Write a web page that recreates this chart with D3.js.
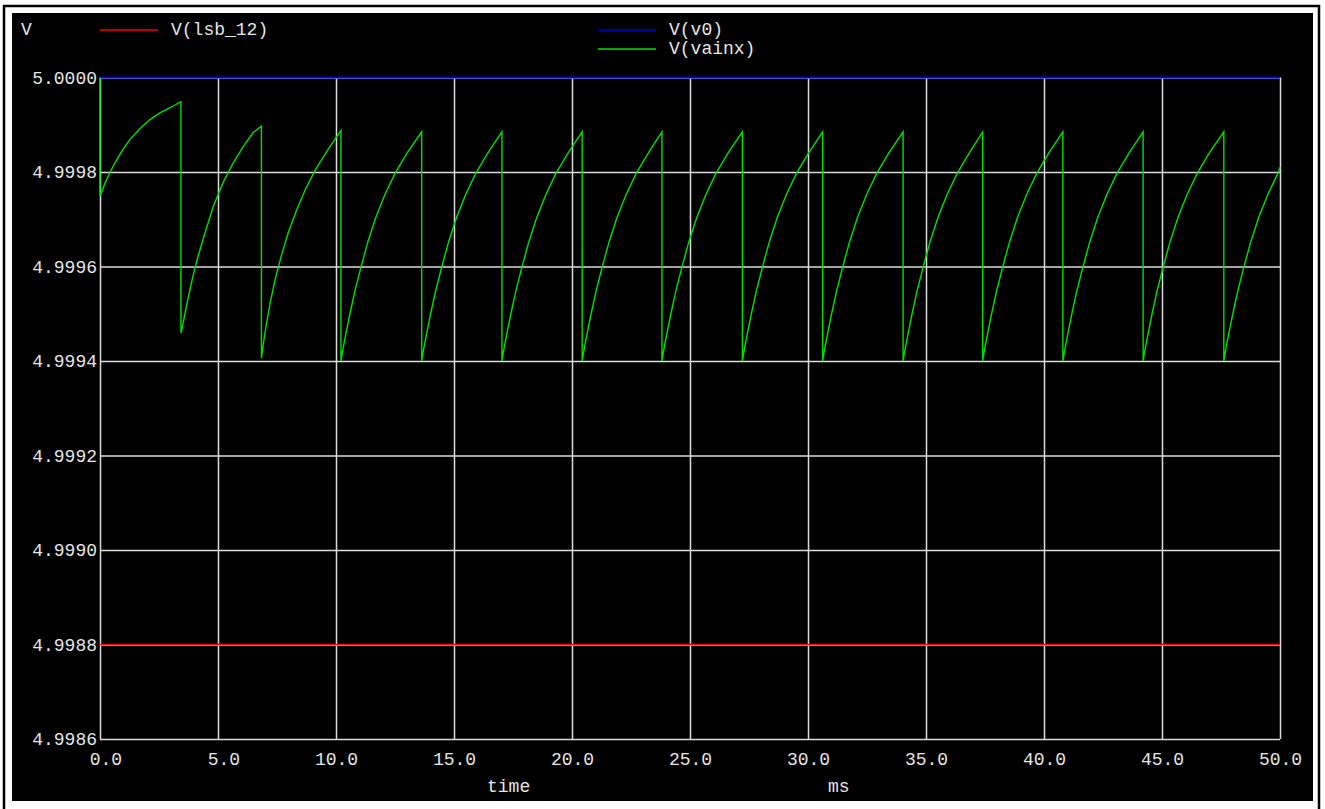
<!DOCTYPE html>
<html>
<head>
<meta charset="utf-8">
<script src="https://cdn.jsdelivr.net/npm/d3@7"></script>
<style>
  body { margin: 0; background: #fff; }
  svg text { font-family: "Liberation Mono", "DejaVu Sans Mono", monospace; font-size: 18px; fill: #e6e6e6; white-space: pre; }
</style>
</head>
<body>
<div id="chart"></div>
<script>
// time axis (ms) and voltage axis ticks
const xTicks = [0, 5, 10, 15, 20, 25, 30, 35, 40, 45, 50];
const yTicks = [4.9986, 4.9988, 4.9990, 4.9992, 4.9994, 4.9996, 4.9998, 5.0000];

const legendNames = ["V(lsb_12)", "V(v0)", "V(vainx)"];
const traceColors = ["#ff0000", "#0000e0", "#00e000"];

// flat traces
const lsb12 = [[0, 4.9988], [50, 4.9988]];
const v0 = [[0, 5.0000], [50, 5.0000]];

// V(vainx): [time ms, volts]
const vainx = [
  [0, 5.0000], [0, 4.999749], [0.21, 4.999776], [0.42, 4.999799], [0.64, 4.999820], [0.85, 4.999838], [1.06, 4.999854], [1.27, 4.999869], [1.70, 4.999892], [2.12, 4.999911], [2.54, 4.999925], [2.97, 4.999936], [3.43, 4.999949],
  [3.43, 4.999459], [3.52, 4.999480], [3.69, 4.999523], [3.90, 4.999571], [4.11, 4.999614], [4.45, 4.999671], [4.79, 4.999726], [5.21, 4.999777], [5.64, 4.999819], [6.06, 4.999853], [6.48, 4.999883], [6.84, 4.999897],
  [6.84, 4.999406], [6.92, 4.999436], [7.05, 4.999478], [7.22, 4.999525], [7.43, 4.999575], [7.69, 4.999624], [7.98, 4.999672], [8.32, 4.999718], [8.70, 4.999763], [9.13, 4.999805], [9.64, 4.999846], [10.21, 4.999888],
  [10.21, 4.999400], [10.29, 4.999424], [10.42, 4.999458], [10.59, 4.999500], [10.80, 4.999548], [11.06, 4.999599], [11.35, 4.999652], [11.69, 4.999704], [12.07, 4.999752], [12.50, 4.999797], [13.01, 4.999840], [13.63, 4.999885],
  [13.63, 4.999400], [13.71, 4.999424], [13.84, 4.999458], [14.01, 4.999500], [14.22, 4.999548], [14.48, 4.999599], [14.77, 4.999652], [15.11, 4.999704], [15.49, 4.999752], [15.92, 4.999797], [16.43, 4.999840], [17.03, 4.999885],
  [17.03, 4.999400], [17.11, 4.999424], [17.24, 4.999458], [17.41, 4.999500], [17.62, 4.999548], [17.88, 4.999599], [18.17, 4.999652], [18.51, 4.999704], [18.89, 4.999752], [19.32, 4.999797], [19.83, 4.999840], [20.43, 4.999885],
  [20.43, 4.999400], [20.51, 4.999424], [20.64, 4.999458], [20.81, 4.999500], [21.02, 4.999548], [21.28, 4.999599], [21.57, 4.999652], [21.91, 4.999704], [22.29, 4.999752], [22.72, 4.999797], [23.23, 4.999840], [23.81, 4.999885],
  [23.81, 4.999400], [23.89, 4.999424], [24.02, 4.999458], [24.19, 4.999500], [24.40, 4.999548], [24.66, 4.999599], [24.95, 4.999652], [25.29, 4.999704], [25.67, 4.999752], [26.10, 4.999797], [26.61, 4.999840], [27.22, 4.999885],
  [27.22, 4.999400], [27.30, 4.999424], [27.43, 4.999458], [27.60, 4.999500], [27.81, 4.999548], [28.07, 4.999599], [28.36, 4.999652], [28.70, 4.999704], [29.08, 4.999752], [29.51, 4.999797], [30.02, 4.999840], [30.62, 4.999885],
  [30.62, 4.999400], [30.70, 4.999424], [30.83, 4.999458], [31.00, 4.999500], [31.21, 4.999548], [31.47, 4.999599], [31.76, 4.999652], [32.10, 4.999704], [32.48, 4.999752], [32.91, 4.999797], [33.42, 4.999840], [34.03, 4.999885],
  [34.03, 4.999400], [34.11, 4.999424], [34.24, 4.999458], [34.41, 4.999500], [34.62, 4.999548], [34.88, 4.999599], [35.17, 4.999652], [35.51, 4.999704], [35.89, 4.999752], [36.32, 4.999797], [36.83, 4.999840], [37.40, 4.999885],
  [37.40, 4.999400], [37.48, 4.999424], [37.61, 4.999458], [37.78, 4.999500], [37.99, 4.999548], [38.25, 4.999599], [38.54, 4.999652], [38.88, 4.999704], [39.26, 4.999752], [39.69, 4.999797], [40.20, 4.999840], [40.80, 4.999885],
  [40.80, 4.999400], [40.88, 4.999424], [41.01, 4.999458], [41.18, 4.999500], [41.39, 4.999548], [41.65, 4.999599], [41.94, 4.999652], [42.28, 4.999704], [42.66, 4.999752], [43.09, 4.999797], [43.60, 4.999840], [44.20, 4.999885],
  [44.20, 4.999400], [44.28, 4.999424], [44.41, 4.999458], [44.58, 4.999500], [44.79, 4.999548], [45.05, 4.999599], [45.34, 4.999652], [45.68, 4.999704], [46.06, 4.999752], [46.49, 4.999797], [47.00, 4.999840], [47.62, 4.999885],
  [47.62, 4.999400], [47.70, 4.999424], [47.83, 4.999458], [48.00, 4.999500], [48.21, 4.999548], [48.47, 4.999599], [48.76, 4.999652], [49.10, 4.999704], [49.48, 4.999752], [49.91, 4.999797], [50.00, 4.999810]
];

const W = 1325, H = 809;
const svg = d3.select("#chart").append("svg")
  .attr("width", W)
  .attr("height", H);

// outer frame + black panel
svg.append("rect")
  .attr("x", 4).attr("y", 6).attr("width", 1315).attr("height", 810)
  .attr("fill", "#fff").attr("stroke", "#000").attr("stroke-width", 2.5);
svg.append("rect")
  .attr("x", 12).attr("y", 13).attr("width", 1301).attr("height", 788)
  .attr("fill", "#000");

const x = d3.scaleLinear().domain([0, 50]).range([100, 1280]);
const y = d3.scaleLinear().domain([4.9986, 5.0000]).range([739, 77.5]);

// grid via axes
svg.append("g")
  .attr("transform", `translate(0,${y(4.9986)})`)
  .call(d3.axisBottom(x)
    .tickValues(xTicks)
    .tickSize(-(y(4.9986) - y(5.0)))
    .tickPadding(13)
    .tickFormat(d => d3.format(".1f")(d).padStart(4, " ")));

svg.append("g")
  .attr("transform", `translate(${x(0)},0)`)
  .call(d3.axisLeft(y)
    .tickValues(yTicks)
    .tickSize(-(x(50) - x(0)))
    .tickPadding(3)
    .tickFormat(d3.format(".4f")));

svg.selectAll(".domain").remove();
svg.selectAll(".tick line")
  .attr("stroke", "#dcdcdc")
  .attr("stroke-width", 1.5);
svg.selectAll(".tick text")
  .attr("fill", "#e6e6e6")
  .attr("font-family", null)
  .attr("font-size", null);

// traces
const line = d3.line()
  .x(d => x(d[0]))
  .y(d => y(d[1]));

const traces = [lsb12, v0, vainx];
const traceWidths = [1.4, 2, 1.4];
traces.forEach((data, i) => {
  svg.append("path")
    .datum(data)
    .attr("fill", "none")
    .attr("stroke", traceColors[i])
    .attr("stroke-width", traceWidths[i])
    .attr("d", line);
});

// labels
svg.append("text").attr("x", 21).attr("y", 35).text("V");
svg.append("text").attr("x", 487).attr("y", 792).text("time");
svg.append("text").attr("x", 828).attr("y", 792).text("ms");

// legend
const legendPos = [[100, 30], [598, 30], [598, 49]];
legendNames.forEach((name, i) => {
  const [lx, ly] = legendPos[i];
  svg.append("line")
    .attr("x1", lx).attr("x2", lx + 58)
    .attr("y1", ly).attr("y2", ly)
    .attr("stroke", traceColors[i])
    .attr("stroke-width", 1.5);
  svg.append("text")
    .attr("x", lx + 71)
    .attr("y", ly + 5)
    .text(name);
});
</script>
</body>
</html>
